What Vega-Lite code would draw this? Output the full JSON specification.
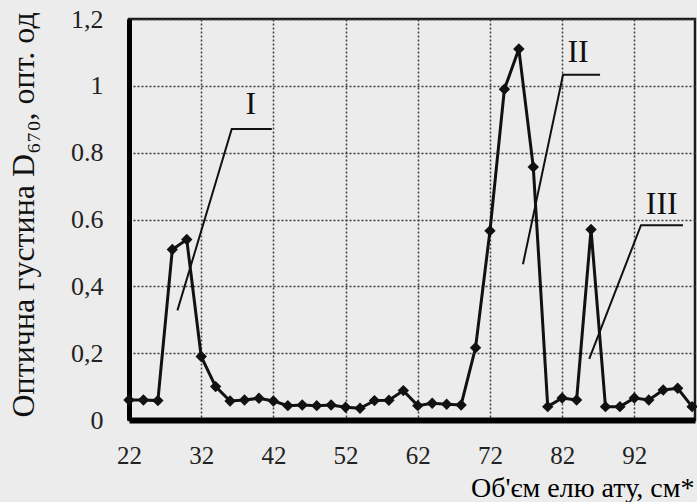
{
  "$schema": "https://vega.github.io/schema/vega-lite/v6.json",
  "width": 566,
  "height": 401,
  "autosize": {"type": "none"},
  "padding": {"left": 129, "top": 19, "right": 2, "bottom": 82},
  "background": "#ececec",
  "config": {"view": {"stroke": "#1a1a1a", "strokeWidth": 2.5}, "font": "Liberation Serif"},
  "datasets": {
    "main": [
      {"x": 22, "y": 0.06}, {"x": 24, "y": 0.06}, {"x": 26, "y": 0.058}, {"x": 28, "y": 0.51},
      {"x": 30, "y": 0.54}, {"x": 32, "y": 0.19}, {"x": 34, "y": 0.10}, {"x": 36, "y": 0.057},
      {"x": 38, "y": 0.06}, {"x": 40, "y": 0.065}, {"x": 42, "y": 0.057}, {"x": 44, "y": 0.043},
      {"x": 46, "y": 0.045}, {"x": 48, "y": 0.043}, {"x": 50, "y": 0.045}, {"x": 52, "y": 0.038},
      {"x": 54, "y": 0.035}, {"x": 56, "y": 0.058}, {"x": 58, "y": 0.059}, {"x": 60, "y": 0.088},
      {"x": 62, "y": 0.043}, {"x": 64, "y": 0.05}, {"x": 66, "y": 0.047}, {"x": 68, "y": 0.045},
      {"x": 70, "y": 0.216}, {"x": 72, "y": 0.566}, {"x": 74, "y": 0.99}, {"x": 76, "y": 1.11},
      {"x": 78, "y": 0.757}, {"x": 80, "y": 0.04}, {"x": 82, "y": 0.066}, {"x": 84, "y": 0.06},
      {"x": 86, "y": 0.57}, {"x": 88, "y": 0.04}, {"x": 90, "y": 0.04}, {"x": 92, "y": 0.066},
      {"x": 94, "y": 0.06}, {"x": 96, "y": 0.09}, {"x": 98, "y": 0.095}, {"x": 100, "y": 0.04}
    ],
    "lines": [
      {"g": "I", "o": 0, "x": 28.71, "y": 0.328}, {"g": "I", "o": 1, "x": 36.23, "y": 0.871}, {"g": "I", "o": 2, "x": 41.78, "y": 0.871},
      {"g": "II", "o": 0, "x": 76.57, "y": 0.466}, {"g": "II", "o": 1, "x": 82.12, "y": 1.033}, {"g": "II", "o": 2, "x": 87.25, "y": 1.033},
      {"g": "III", "o": 0, "x": 85.75, "y": 0.183}, {"g": "III", "o": 1, "x": 92.92, "y": 0.583}, {"g": "III", "o": 2, "x": 98.74, "y": 0.583}
    ],
    "labels": [
      {"t": "I", "x": 38.87, "y": 0.946},
      {"t": "II", "x": 84.2, "y": 1.102},
      {"t": "III", "x": 95.8, "y": 0.646}
    ]
  },
  "encoding": {
    "x": {
      "field": "x", "type": "quantitative",
      "scale": {"domain": [22, 100.4], "nice": false, "zero": false},
      "axis": {
        "values": [22, 32, 42, 52, 62, 72, 82, 92],
        "grid": true, "gridColor": "#3a3a3a", "gridDash": [2, 2], "gridWidth": 1.5,
        "ticks": false, "labelPadding": 23, "labelFlush": false, "labelFont": "Liberation Serif", "labelFontSize": 25, "labelColor": "#222",
        "domainColor": "#000", "domainWidth": 6,
        "title": "Об'єм елю ату, см*", "titleFont": "Liberation Serif", "titleFontSize": 28, "titleFontWeight": "normal", "titleColor": "#000",
        "titleX": 565, "titleY": 76, "titleAlign": "right", "titleBaseline": "alphabetic"
      }
    },
    "y": {
      "field": "y", "type": "quantitative",
      "scale": {"domain": [0, 1.2], "nice": false},
      "axis": {
        "values": [0, 0.2, 0.4, 0.6, 0.8, 1, 1.2],
        "labelExpr": "round(datum.value*10)==12?'1,2':round(datum.value*10)==10?'1':round(datum.value*10)==8?'0.8':round(datum.value*10)==6?'0.6':round(datum.value*10)==4?'0,4':round(datum.value*10)==2?'0,2':'0'",
        "grid": true, "gridColor": "#3a3a3a", "gridDash": [2, 2], "gridWidth": 1.5,
        "ticks": false, "labelPadding": 26, "labelFlush": false, "labelFont": "Liberation Serif", "labelFontSize": 26, "labelColor": "#222",
        "domainColor": "#000", "domainWidth": 5,
        "title": "Оптична густина D₆₇₀, опт. од", "titleFont": "Liberation Serif", "titleFontSize": 32, "titleFontWeight": "normal", "titleColor": "#111",
        "titleAngle": 270, "titleX": -106, "titleY": 398, "titleAlign": "left", "titleBaseline": "middle"
      }
    }
  },
  "layer": [
    {"data": {"name": "lines"}, "mark": {"type": "line", "color": "#111", "strokeWidth": 2}, "encoding": {"detail": {"field": "g"}, "order": {"field": "o"}}},
    {"data": {"name": "main"}, "mark": {"type": "line", "color": "#111", "strokeWidth": 3}, "encoding": {"order": {"field": "x"}}},
    {"data": {"name": "main"}, "mark": {"type": "point", "shape": "diamond", "filled": true, "size": 130, "color": "#111", "opacity": 1}},
    {"data": {"name": "labels"}, "mark": {"type": "text", "fontSize": 32, "font": "Liberation Serif", "color": "#111"}, "encoding": {"text": {"field": "t"}}}
  ]
}
